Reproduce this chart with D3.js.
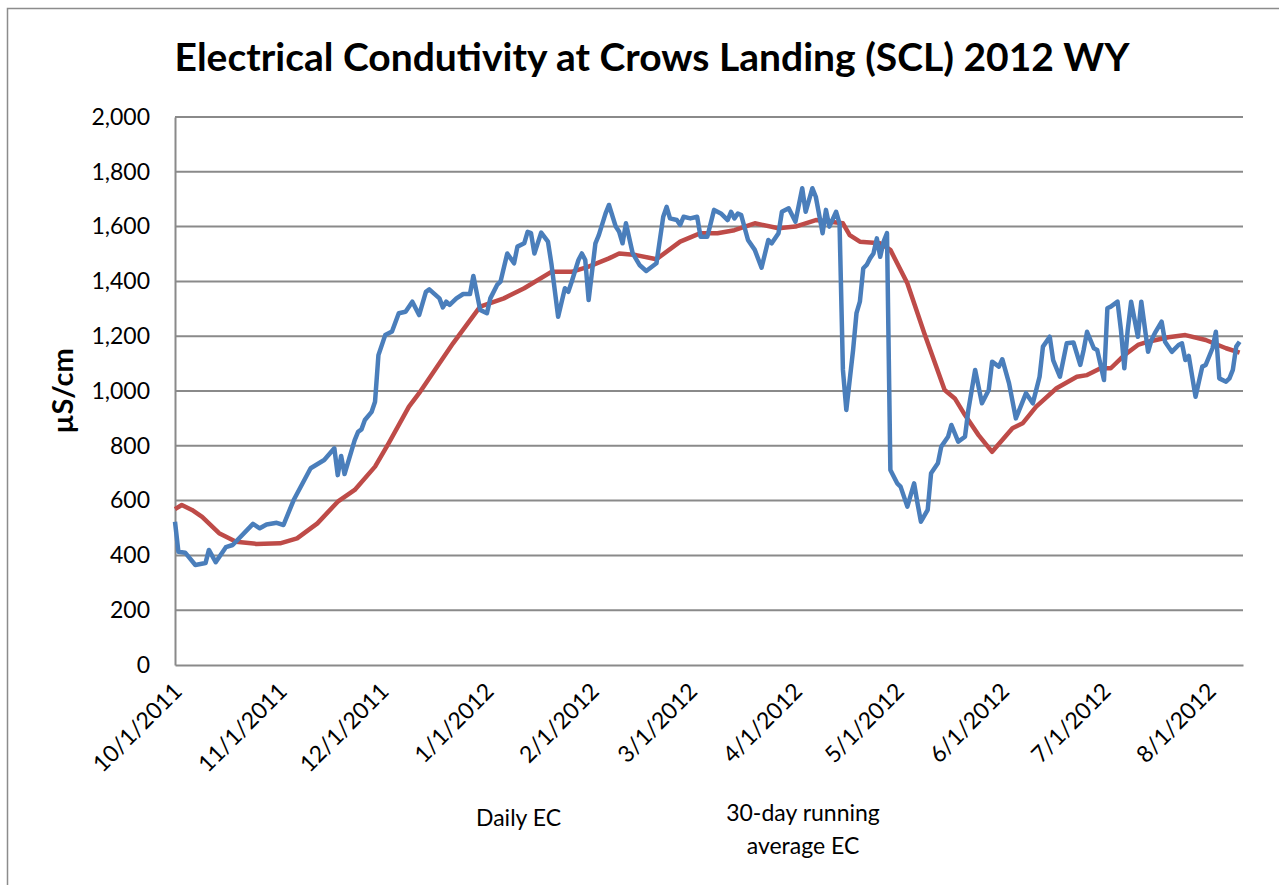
<!DOCTYPE html>
<html>
<head>
<meta charset="utf-8">
<script src="https://cdn.jsdelivr.net/npm/d3@7/dist/d3.min.js"></script>
<style>
  body { margin: 0; background: #fff; }
  svg { display: block; font-family: Lato, "Open Sans", sans-serif; }
</style>
</head>
<body>
<div id="chart"></div>
<script>
// Chart text
var titleText = "Electrical Condutivity at Crows Landing (SCL) 2012 WY";
var yTitle = "\u00b5S/cm";
var legendNames = ["Daily EC", "30-day running average EC"];

// Axis ticks
var yTicks = [0, 200, 400, 600, 800, 1000, 1200, 1400, 1600, 1800, 2000];
var xTickLabels = ["10/1/2011", "11/1/2011", "12/1/2011", "1/1/2012", "2/1/2012", "3/1/2012",
  "4/1/2012", "5/1/2012", "6/1/2012", "7/1/2012", "8/1/2012"];

// Daily EC, days counted from 10/1/2011
var dailyDay = [0, 1, 3, 6, 9, 10, 12, 15, 17, 23, 25, 27, 30, 32, 35, 40, 44, 47, 48, 49,
  50, 53, 54, 55, 56, 58, 59, 60, 62, 64, 66, 68, 70, 72, 74, 75, 78, 79, 80, 81,
  83, 85, 87, 88, 90, 92, 93, 95, 96, 98, 100, 101, 103, 104, 105, 106, 108, 110, 111, 113,
  115, 116, 117, 119, 120, 121, 122, 124, 125, 127, 128, 130, 131, 132, 133, 135, 137, 139, 142, 144,
  145, 146, 148, 149, 150, 152, 154, 155, 157, 159, 161, 163, 164, 165, 166, 167, 169, 171, 173, 175,
  176, 178, 179, 181, 183, 185, 186, 188, 189, 191, 192, 193, 195, 196, 197, 198, 200, 201, 202, 203,
  204, 205, 206, 207, 208, 209, 210, 211, 213, 214, 216, 218, 219, 220, 222, 223, 225, 226, 228, 229,
  231, 233, 234, 236, 238, 240, 241, 243, 244, 246, 248, 250, 251, 253, 255, 256, 258, 259, 261, 263,
  265, 267, 268, 269, 271, 272, 274, 275, 276, 278, 279, 280, 281, 282, 284, 285, 287, 288, 289, 291,
  292, 294, 296, 297, 298, 299, 301, 303, 304, 306, 307, 308, 310, 311, 312, 313, 314];
var dailyEC = [523, 413, 410, 365, 372, 420, 375, 430, 438, 515, 499, 513, 519, 511, 602, 718, 748, 791, 693, 763,
  697, 821, 851, 860, 894, 924, 961, 1131, 1204, 1217, 1284, 1289, 1326, 1277, 1362, 1371, 1338, 1305, 1326, 1314,
  1338, 1354, 1354, 1420, 1296, 1284, 1338, 1387, 1399, 1502, 1466, 1527, 1539, 1581, 1576, 1502, 1578, 1545, 1466, 1271,
  1375, 1362, 1399, 1478, 1502, 1478, 1332, 1539, 1569, 1648, 1679, 1600, 1581, 1539, 1612, 1502, 1460, 1438, 1466, 1636,
  1672, 1630, 1624, 1606, 1636, 1630, 1636, 1563, 1563, 1661, 1648, 1624, 1654, 1630, 1648, 1642, 1551, 1515, 1450, 1551,
  1539, 1576, 1654, 1667, 1618, 1740, 1654, 1740, 1709, 1576, 1661, 1600, 1654, 1612, 1077, 931, 1150, 1284, 1326, 1448,
  1460, 1484, 1502, 1557, 1490, 1545, 1576, 712, 663, 651, 578, 663, 590, 523, 566, 700, 736, 797, 833, 876,
  815, 833, 931, 1077, 955, 1004, 1107, 1089, 1116, 1028, 900, 961, 992, 955, 1052, 1162, 1198, 1113, 1052, 1174,
  1177, 1095, 1150, 1216, 1156, 1150, 1040, 1302, 1308, 1326, 1223, 1083, 1223, 1326, 1198, 1326, 1143, 1186, 1211, 1253,
  1180, 1143, 1168, 1174, 1113, 1128, 979, 1089, 1095, 1156, 1216, 1046, 1034, 1046, 1077, 1162, 1180];

// 30-day running average EC
var avgDay = [0, 2, 5, 8, 13, 18, 24, 31, 36, 42, 48, 53, 59, 63, 69, 72, 82, 90, 97, 103,
  111, 117, 122, 128, 131, 136, 142, 149, 155, 160, 165, 171, 178, 183, 189, 197, 199, 202, 208, 211,
  216, 221, 227, 230, 233, 237, 241, 247, 250, 254, 260, 266, 269, 273, 276, 280, 284, 287, 293, 298,
  304, 310, 314];
var avgEC = [569, 584, 566, 541, 481, 450, 442, 444, 462, 517, 596, 639, 724, 809, 943, 992, 1174, 1308, 1338, 1375,
  1435, 1435, 1454, 1484, 1502, 1496, 1481, 1545, 1576, 1576, 1587, 1612, 1594, 1600, 1624, 1612, 1569, 1545, 1539, 1515,
  1393, 1211, 1004, 973, 912, 839, 778, 864, 882, 943, 1010, 1052, 1058, 1083, 1083, 1131, 1168, 1180, 1196, 1204,
  1186, 1156, 1140];

var colors = ["#4a7ebb", "#be4b48"];

// SVG area and plot margins
var svgWidth = 1279;
var svgHeight = 885;
var Margin = { top: 117, right: 36, bottom: 220, left: 175 };
var width = svgWidth - Margin.left - Margin.right;
var height = svgHeight - Margin.top - Margin.bottom;

var svg = d3.select("#chart")
  .append("svg")
  .attr("width", svgWidth)
  .attr("height", svgHeight);

// Outer chart border (runs off the right and bottom edges)
svg.append("rect")
  .attr("x", 7.5)
  .attr("y", 8.5)
  .attr("width", svgWidth + 20)
  .attr("height", svgHeight + 20)
  .attr("fill", "none")
  .attr("stroke", "#8c8c8c")
  .attr("stroke-width", 1.5);

var chartGroup = svg.append("g")
  .attr("transform", `translate(${Margin.left}, ${Margin.top})`);

// Scales
var startDate = new Date(Date.UTC(2011, 9, 1));
var endDate = new Date(Date.UTC(2012, 7, 11));
var xTimeScale = d3.scaleUtc()
  .domain([startDate, endDate])
  .range([0, width]);

var yLinearScale = d3.scaleLinear()
  .domain([0, 2000])
  .range([height, 0]);

function dayToDate(d) {
  return d3.utcDay.offset(startDate, d);
}

// Horizontal gridlines
chartGroup.append("g")
  .selectAll("line")
  .data(yTicks.slice(1))
  .enter()
  .append("line")
  .attr("x1", 0)
  .attr("x2", width)
  .attr("y1", d => yLinearScale(d))
  .attr("y2", d => yLinearScale(d))
  .attr("stroke", "#8a8a8a")
  .attr("stroke-width", 2);

// Left axis
var leftAxis = d3.axisLeft(yLinearScale)
  .tickValues(yTicks)
  .tickSize(0)
  .tickPadding(25)
  .tickFormat(d3.format(","));

var yAxisG = chartGroup.append("g").call(leftAxis);
yAxisG.select(".domain").attr("stroke", "#8a8a8a").attr("stroke-width", 2);
yAxisG.selectAll("text")
  .attr("font-family", "Lato, sans-serif")
  .attr("font-size", "23px")
  .attr("fill", "#000");

// Bottom axis with month ticks
var monthDates = xTickLabels.map(function(s) {
  var p = s.split("/");
  return new Date(Date.UTC(+p[2], +p[0] - 1, +p[1]));
});

var bottomAxis = d3.axisBottom(xTimeScale)
  .tickValues(monthDates)
  .tickSize(0)
  .tickFormat(function(d, i) { return xTickLabels[i]; });

var xAxisG = chartGroup.append("g")
  .attr("transform", `translate(0, ${height})`)
  .call(bottomAxis);
xAxisG.select(".domain").attr("stroke", "#8a8a8a").attr("stroke-width", 2);
xAxisG.selectAll("text")
  .attr("font-family", "Lato, sans-serif")
  .attr("font-size", "23px")
  .attr("fill", "#000")
  .attr("text-anchor", "end")
  .attr("dy", "0.35em")
  .attr("transform", "translate(0, 20) rotate(-45)");

// Lines
var dailyData = dailyDay.map((d, i) => ({ date: dayToDate(d), value: dailyEC[i] }));
var avgData = avgDay.map((d, i) => ({ date: dayToDate(d), value: avgEC[i] }));

var lineGen = d3.line()
  .x(d => xTimeScale(d.date))
  .y(d => yLinearScale(d.value));

chartGroup.append("path")
  .datum(avgData)
  .attr("d", lineGen)
  .attr("fill", "none")
  .attr("stroke", colors[1])
  .attr("stroke-width", 4.5)
  .attr("stroke-linejoin", "round");

chartGroup.append("path")
  .datum(dailyData)
  .attr("d", lineGen)
  .attr("fill", "none")
  .attr("stroke", colors[0])
  .attr("stroke-width", 4.5)
  .attr("stroke-linejoin", "round");

// Title
svg.append("text")
  .attr("x", 652)
  .attr("y", 71)
  .attr("text-anchor", "middle")
  .attr("font-family", "Lato, sans-serif")
  .attr("font-weight", "bold")
  .attr("font-size", "39px")
  .text(titleText);

// Y axis title
svg.append("text")
  .attr("transform", "translate(73, 391) rotate(-90)")
  .attr("text-anchor", "middle")
  .attr("font-family", "Lato, sans-serif")
  .attr("font-weight", "bold")
  .attr("font-size", "29px")
  .text(yTitle);

// Legend (text only)
svg.append("text")
  .attr("x", 476)
  .attr("y", 826)
  .attr("font-family", "Lato, sans-serif")
  .attr("font-size", "23px")
  .text(legendNames[0]);

var leg2 = svg.append("text")
  .attr("x", 803)
  .attr("y", 821)
  .attr("text-anchor", "middle")
  .attr("font-family", "Lato, sans-serif")
  .attr("font-size", "23px");
leg2.append("tspan").attr("x", 803).text("30-day running");
leg2.append("tspan").attr("x", 803).attr("dy", 33).text("average EC");
</script>
</body>
</html>
